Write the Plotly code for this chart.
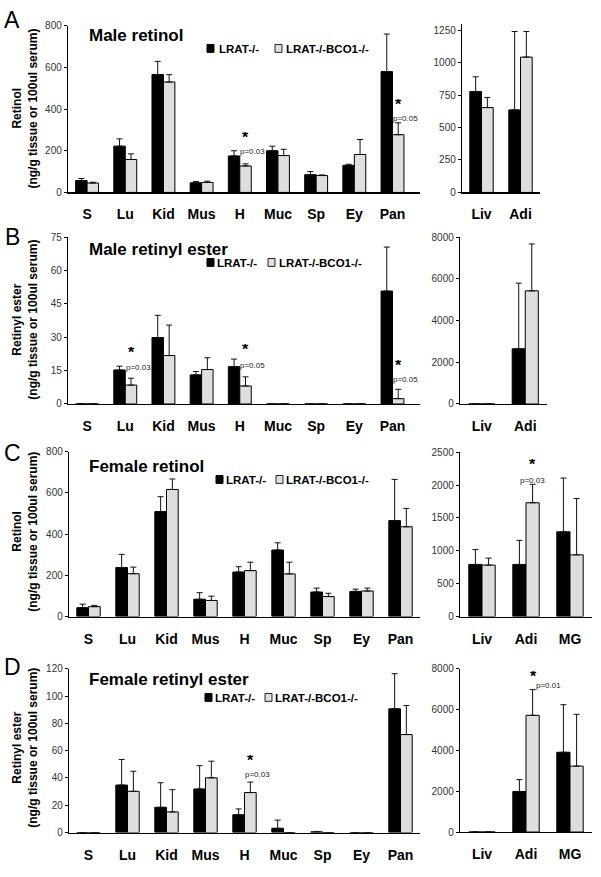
import plotly.graph_objects as go

W, H = 601, 877
FONT = "Liberation Sans, Arial, Helvetica, sans-serif"

def px(x):
    return x / W

def py(y):
    return 1 - y / H

# ---------------- data ----------------
cats_small = ["S", "Lu", "Kid", "Mus", "H", "Muc", "Sp", "Ey", "Pan"]
cats_big2 = ["Liv", "Adi"]
cats_big3 = ["Liv", "Adi", "MG"]
groups = ["LRAT-/-", "LRAT-/-BCO1-/-"]

# A: Male retinol
a_lrat = [57, 222, 566, 46, 175, 200, 85, 130, 580]
a_lrat_sd = [10, 35, 63, 6, 25, 22, 15, 5, 180]
a_bco = [45, 158, 530, 48, 127, 177, 81, 182, 277]
a_bco_sd = [4, 27, 35, 6, 10, 30, 3, 72, 57]
a2_lrat = [778, 636]
a2_lrat_sd = [113, 604]
a2_bco = [654, 1043]
a2_bco_sd = [78, 197]

# B: Male retinyl ester
b_lrat = [0, 15.3, 29.9, 13.1, 16.8, 0, 0, 0, 50.8]
b_lrat_sd = [0, 1.7, 10.0, 1.5, 3.4, 0, 0, 0, 19.8]
b_bco = [0, 8.5, 21.8, 15.5, 8.1, 0, 0, 0, 2.4]
b_bco_sd = [0, 3.1, 13.7, 5.3, 4.1, 0, 0, 0, 4.2]
b2_lrat = [0, 2650]
b2_lrat_sd = [0, 3150]
b2_bco = [0, 5430]
b2_bco_sd = [0, 2250]

# C: Female retinol
c_lrat = [43, 238, 510, 84, 216, 323, 119, 122, 466]
c_lrat_sd = [17, 64, 72, 32, 26, 35, 19, 11, 200]
c_bco = [48, 208, 617, 78, 223, 207, 97, 124, 436]
c_bco_sd = [6, 32, 51, 21, 41, 57, 16, 14, 89]
c2_lrat = [793, 793, 1290]
c2_lrat_sd = [226, 367, 818]
c2_bco = [783, 1732, 939]
c2_bco_sd = [106, 281, 858]

# D: Female retinyl ester
d_lrat = [0, 34.8, 18.5, 31.9, 13.0, 3.1, 0.5, 0, 90.7]
d_lrat_sd = [0, 18.7, 18.0, 17.1, 4.3, 6.0, 0.3, 0, 25.7]
d_bco = [0, 30.2, 15.1, 40.1, 29.3, 0, 0, 0, 71.8]
d_bco_sd = [0, 14.7, 16.3, 12.2, 7.7, 0, 0, 0, 21.3]
d2_lrat = [0, 1988, 3910]
d2_lrat_sd = [0, 582, 2330]
d2_bco = [0, 5720, 3232]
d2_bco_sd = [0, 1260, 2538]

# ---------------- layout spec ----------------
# (cats, lrat, lrat_sd, bco, bco_sd, x0px, x1px, ytop_px, ybot_px, ymax, dtick)
panels = [
    (cats_small, a_lrat, a_lrat_sd, a_bco, a_bco_sd, 68, 420, 20, 189, 800, 200),
    (cats_big2, a2_lrat, a2_lrat_sd, a2_bco, a2_bco_sd, 462, 540, 18, 189, 1300, 250),
    (cats_small, b_lrat, b_lrat_sd, b_bco, b_bco_sd, 68, 420, 234.5, 403.5, 75, 15),
    (cats_big2, b2_lrat, b2_lrat_sd, b2_bco, b2_bco_sd, 460, 547, 234.5, 403.5, 8000, 2000),
    (cats_small, c_lrat, c_lrat_sd, c_bco, c_bco_sd, 69, 420, 452, 619, 800, 200),
    (cats_big3, c2_lrat, c2_lrat_sd, c2_bco, c2_bco_sd, 460, 592, 452.5, 619, 2500, 500),
    (cats_small, d_lrat, d_lrat_sd, d_bco, d_bco_sd, 69, 420, 672, 838, 120, 20),
    (cats_big3, d2_lrat, d2_lrat_sd, d2_bco, d2_bco_sd, 460, 592, 672, 837.5, 8000, 2000),
]

fig = go.Figure()
layout_axes = {}
for i, (cats, l, lsd, b, bsd, x0, x1, yt, yb, ymax, dt) in enumerate(panels):
    n = i + 1
    xa = "x" if n == 1 else f"x{n}"
    ya = "y" if n == 1 else f"y{n}"
    for vals, sd, col in ((l, lsd, "#000000"), (b, bsd, "#dedede")):
        fig.add_trace(go.Bar(
            x=cats, y=vals, xaxis=xa, yaxis=ya, showlegend=False,
            name=groups[0] if col == "#000000" else groups[1],
            marker=dict(color=col, line=dict(color="#000000", width=1)),
            error_y=dict(type="data", array=sd, arrayminus=[0] * len(sd),
                         symmetric=False, color="#111111", thickness=1, width=3),
        ))
    xkey = "xaxis" if n == 1 else f"xaxis{n}"
    ykey = "yaxis" if n == 1 else f"yaxis{n}"
    layout_axes[xkey] = dict(
        domain=[px(x0), px(x1)], anchor=ya, type="category",
        categoryorder="array", categoryarray=cats,
        showline=True, linecolor="#000000", linewidth=1.2,
        ticks="", showgrid=False, zeroline=False,
        tickfont=dict(family=FONT, size=14, color="#000000", weight="bold"),
        ticklabelstandoff=9, fixedrange=True,
    )
    layout_axes[ykey] = dict(
        domain=[py(yb), py(yt)], anchor=xa, range=[0, ymax], dtick=dt,
        tick0=0, showline=True, linecolor="#000000", linewidth=1.2,
        ticks="outside", ticklen=3, tickcolor="#000000", showgrid=False,
        zeroline=False, tickfont=dict(family=FONT, size=10, color="#333333"),
        fixedrange=True,
    )

fig.update_layout(**layout_axes)

annotations = []
shapes = []

def text(x, y, t, size, bold=False, angle=0, xanchor="center", yanchor="middle", color="#000000"):
    annotations.append(dict(
        x=px(x), y=py(y), xref="paper", yref="paper", text=t, showarrow=False,
        textangle=angle, xanchor=xanchor, yanchor=yanchor,
        font=dict(family=FONT, size=size, color=color, weight="bold" if bold else "normal"),
    ))

# panel letters
for letter, yy in (("A", 14), ("B", 234), ("C", 453), ("D", 670)):
    text(12, yy, letter, 23)

# titles
for t, yy in (("Male retinol", 30), ("Male retinyl ester", 247),
              ("Female retinol", 467), ("Female retinyl ester", 683)):
    text(87, yy, t, 17, bold=True, xanchor="left")

# y-axis titles (two lines)
for t, yy in (("Retinol", 104), ("Retinyl ester", 318), ("Retinol", 533), ("Retinyl ester", 752)):
    text(17, yy, t, 12, bold=True, angle=-90)
    text(33, yy, "(ng/g tissue or 100ul serum)", 12, bold=True, angle=-90)

# legends
for sq1, t1, sq2, t2, yy in ((207, 217, 275, 284, 43), (207, 215, 268, 277, 260),
                             (216, 224, 276, 284, 480), (205, 213, 265, 273, 701)):
    shapes.append(dict(type="rect", xref="paper", yref="paper",
                       x0=px(sq1), x1=px(sq1 + 7), y0=py(yy + 4), y1=py(yy - 4),
                       fillcolor="#000000", line=dict(color="#000000", width=1)))
    shapes.append(dict(type="rect", xref="paper", yref="paper",
                       x0=px(sq2), x1=px(sq2 + 7), y0=py(yy + 4), y1=py(yy - 4),
                       fillcolor="#dedede", line=dict(color="#222222", width=1)))
    text(t1, yy + 0.5, groups[0], 11.5, bold=True, xanchor="left")
    text(t2, yy + 0.5, groups[1], 11.5, bold=True, xanchor="left")

# significance marks: (xaxis, yaxis, category, star_y, p_y, p_text, star_shift, p_shift)
sig = [
    ("x", "y", "H", 270, 204, "p=0.03", 6, 13),
    ("x", "y", "Pan", 431, 365, "p=0.05", 6, 13),
    ("x3", "y3", "Lu", 23.7, 17.5, "p=0.03", 6, 13),
    ("x3", "y3", "H", 25.0, 18.4, "p=0.05", 6, 13),
    ("x3", "y3", "Pan", 17.9, 11.7, "p=0.05", 6, 13),
    ("x6", "y6", "Adi", 2335, 2096, "p=0.03", 6, 6),
    ("x7", "y7", "H", 54.2, 44.1, "p=0.03", 6, 13),
    ("x8", "y8", "Adi", 7711, 7277, "p=0.01", 7, 22),
]
for xa, ya, cat, sy, pyv, pt, ss, ps in sig:
    annotations.append(dict(x=cat, y=sy, xref=xa, yref=ya, text="*", showarrow=False,
                            xshift=ss, yshift=-1, xanchor="center", yanchor="middle",
                            height=10,
                            font=dict(family=FONT, size=16, color="#000000", weight="bold")))
    annotations.append(dict(x=cat, y=pyv, xref=xa, yref=ya, text=pt, showarrow=False,
                            xshift=ps, yshift=-2, xanchor="center", yanchor="middle",
                            font=dict(family=FONT, size=8, color="#222222")))

fig.update_layout(
    width=W, height=H, margin=dict(l=0, r=0, t=0, b=0),
    paper_bgcolor="#ffffff", plot_bgcolor="#ffffff",
    barmode="group", bargap=0.4, bargroupgap=0,
    annotations=annotations, shapes=shapes,
    font=dict(family=FONT), showlegend=False,
)

fig.write_html(
    "out.html",
    config={"displayModeBar": False, "staticPlot": True},
    post_script="document.body.style.margin='0';document.body.style.overflow='hidden';",
)
